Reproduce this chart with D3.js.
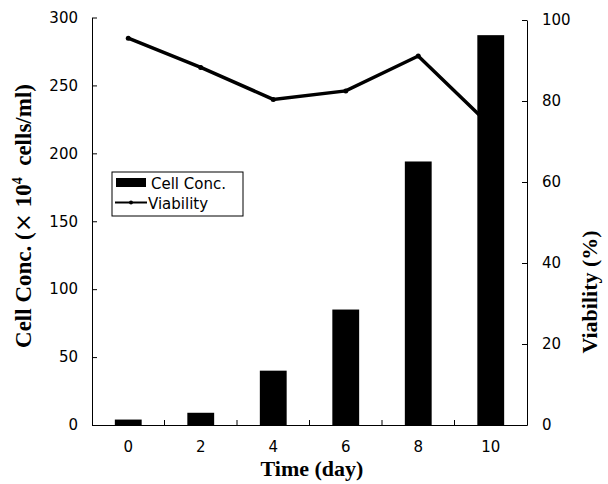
<!DOCTYPE html>
<html>
<head>
<meta charset="utf-8">
<script src="https://cdn.jsdelivr.net/npm/d3@7"></script>
<style>
  body { margin: 0; background: #fff; }
  svg { display: block; }
</style>
</head>
<body>
<svg id="chart" width="608" height="484"></svg>
<script>
const days = ["0", "2", "4", "6", "8", "10"];
const cellConc = [4, 9, 40, 85, 194, 287];
const viability = [95.5, 88.3, 80.4, 82.5, 91.1, 73.8];
const leftTicks = [0, 50, 100, 150, 200, 250, 300];
const rightTicks = [0, 20, 40, 60, 80, 100];

const svg = d3.select("#chart");
const L = 92, R = 527, B = 425;

const x = d3.scaleBand().domain(days).range([L, R]).paddingInner(0.63).paddingOuter(0.315);
const xStep = d3.scaleBand().domain(days).range([L, R]).padding(0);
const yL = d3.scaleLinear().domain([0, 300]).range([B, 17.5]);
const yR = d3.scaleLinear().domain([0, 100]).range([B, 20]);

const sans = "DejaVu Sans, Liberation Sans, Arial, sans-serif";
const serif = "Liberation Serif, Times New Roman, serif";

// bars
svg.append("g").selectAll("rect").data(days).join("rect")
  .attr("x", d => x(d))
  .attr("width", x.bandwidth())
  .attr("y", (d, i) => yL(cellConc[i]))
  .attr("height", (d, i) => B - yL(cellConc[i]))
  .attr("fill", "#000");

// left axis
const gL = svg.append("g").attr("transform", `translate(${L},0)`)
  .call(d3.axisLeft(yL).tickValues(leftTicks).tickSize(-5).tickPadding(14).tickSizeOuter(0));
gL.select(".domain").attr("stroke", "#000");
gL.selectAll(".tick line").attr("stroke", "#000");
gL.selectAll(".tick text").attr("font-family", sans).attr("font-size", 15).attr("fill", "#000");

// right axis
const gR = svg.append("g").attr("transform", `translate(${R},0)`)
  .call(d3.axisRight(yR).tickValues(rightTicks).tickSize(-5).tickPadding(15).tickSizeOuter(0));
gR.select(".domain").attr("stroke", "#000");
gR.selectAll(".tick line").attr("stroke", "#000");
gR.selectAll(".tick text").attr("font-family", sans).attr("font-size", 15).attr("fill", "#000");

// bottom axis (labels at band centers, ticks at band boundaries)
const gB = svg.append("g").attr("transform", `translate(0,${B})`)
  .call(d3.axisBottom(x).tickSize(0).tickPadding(16));
gB.select(".domain").attr("stroke", "#000");
gB.selectAll(".tick text").attr("font-family", sans).attr("font-size", 15).attr("fill", "#000");
svg.append("g").selectAll("line").data(days.slice(1)).join("line")
  .attr("x1", d => xStep(d)).attr("x2", d => xStep(d))
  .attr("y1", B).attr("y2", B - 5)
  .attr("stroke", "#000");

// viability line
const line = d3.line()
  .x((d, i) => x(days[i]) + x.bandwidth() / 2)
  .y(d => yR(d));
svg.append("path").datum(viability)
  .attr("d", line).attr("fill", "none").attr("stroke", "#000").attr("stroke-width", 3.5);
svg.append("g").selectAll("circle").data(viability).join("circle")
  .attr("cx", (d, i) => x(days[i]) + x.bandwidth() / 2)
  .attr("cy", d => yR(d))
  .attr("r", 2.5).attr("fill", "#000");

// legend
const lg = svg.append("g");
lg.append("rect").attr("x", 112).attr("y", 172).attr("width", 131).attr("height", 44)
  .attr("fill", "#fff").attr("stroke", "#000");
lg.append("rect").attr("x", 116).attr("y", 178).attr("width", 30).attr("height", 9).attr("fill", "#000");
lg.append("text").attr("x", 151).attr("y", 189).text("Cell Conc.")
  .attr("font-family", sans).attr("font-size", 15);
lg.append("line").attr("x1", 115).attr("x2", 147).attr("y1", 202.5).attr("y2", 202.5)
  .attr("stroke", "#000").attr("stroke-width", 2);
lg.append("circle").attr("cx", 131).attr("cy", 202.5).attr("r", 2).attr("fill", "#000");
lg.append("text").attr("x", 148).attr("y", 209).text("Viability")
  .attr("font-family", sans).attr("font-size", 15);

// axis titles
svg.append("text").attr("x", 312).attr("y", 476).attr("text-anchor", "middle")
  .attr("font-family", serif).attr("font-weight", "bold").attr("font-size", 22)
  .text("Time (day)");

const lt = svg.append("text").attr("transform", "translate(31,216) rotate(-90)")
  .attr("text-anchor", "middle")
  .attr("font-family", serif).attr("font-weight", "bold").attr("font-size", 23);
lt.append("tspan").text("Cell Conc. (");
lt.append("tspan").attr("font-family", sans).attr("font-weight", "normal").text("\u00D7");
lt.append("tspan").text(" 10");
lt.append("tspan").attr("dy", -9).attr("font-size", 14).text("4");
lt.append("tspan").attr("dy", 9).text("\u00A0 cells/ml)");

svg.append("text").attr("transform", "translate(597,292) rotate(-90)")
  .attr("text-anchor", "middle")
  .attr("font-family", serif).attr("font-weight", "bold").attr("font-size", 22)
  .text("Viability (%)");
</script>
</body>
</html>
